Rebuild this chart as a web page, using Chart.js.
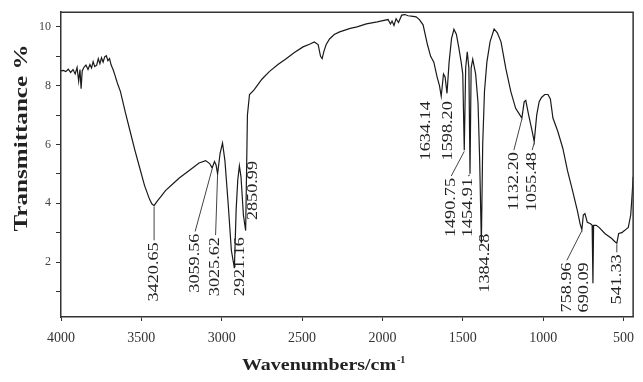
<!DOCTYPE html>
<html>
<head>
<meta charset="utf-8">
<script src="https://cdn.jsdelivr.net/npm/chart.js@4/dist/chart.umd.min.js"></script>
<style>
  html, body { margin: 0; padding: 0; background: #fff; }
  #wrap { width: 643px; height: 382px; }
</style>
</head>
<body>
<div id="wrap"><canvas id="irChart" width="643" height="382"></canvas></div>
<script>
// IR SPECTRUM - TRANSMITTANCE //

var wavenumbers = [
  4000, 3985, 3970, 3955, 3940, 3925, 3912, 3900, 3890, 3882, 3875, 3868, 3858, 3845, 3832, 3820,
  3810, 3800, 3790, 3778, 3768, 3758, 3748, 3738, 3728, 3718, 3708, 3698, 3688, 3676, 3664, 3650,
  3630, 3600, 3570, 3540, 3510, 3480, 3450, 3435, 3420.65, 3400, 3375, 3350, 3300, 3264, 3200, 3141,
  3100, 3075, 3059.56, 3045, 3035, 3025.62, 3010, 2995, 2980, 2960, 2940, 2921.16, 2910, 2900, 2890,
  2880, 2865, 2850.99, 2845, 2840, 2827, 2800, 2784, 2750, 2704, 2650, 2599, 2550, 2494, 2450, 2424,
  2400, 2385, 2375, 2365, 2350, 2329, 2300, 2266, 2200, 2158, 2100, 2032, 1990, 1965, 1950, 1940,
  1928, 1915, 1900, 1880, 1860, 1840, 1810, 1790, 1770, 1747, 1720, 1700, 1680, 1660, 1645, 1634.14,
  1620, 1610, 1598.2, 1585, 1570, 1555, 1540, 1525, 1510, 1500, 1490.75, 1482, 1472, 1462, 1454.91,
  1448, 1438, 1420, 1405, 1395, 1384.28, 1376, 1365, 1350, 1330, 1305, 1285, 1262, 1232, 1201, 1171,
  1150, 1132.2, 1118, 1108, 1090, 1070, 1055.48, 1040, 1025, 1010, 990, 970, 955, 939, 909, 878,
  848, 817, 787, 770, 758.96, 750, 740, 725, 705, 695, 690.09, 686, 670, 652, 616, 573,
  555, 541.33, 530, 510, 494, 470, 455, 445, 440
];
var transmittance = [
  8.50, 8.52, 8.48, 8.56, 8.45, 8.55, 8.40, 8.62, 8.15, 8.55, 7.90, 8.50, 8.62, 8.70, 8.55, 8.72,
  8.60, 8.82, 8.65, 8.70, 8.92, 8.75, 8.95, 8.80, 8.98, 9.02, 8.85, 8.92, 8.70, 8.55, 8.35, 8.10,
  7.80, 7.10, 6.45, 5.80, 5.20, 4.60, 4.15, 3.98, 3.92, 4.08, 4.25, 4.43, 4.68, 4.86, 5.12, 5.37,
  5.45, 5.35, 5.20, 5.42, 5.30, 5.00, 5.70, 6.05, 5.45, 4.00, 2.40, 1.79, 3.80, 4.80, 5.27,
  4.90, 3.60, 3.07, 5.20, 7.00, 7.70, 7.85, 7.97, 8.22, 8.48, 8.72, 8.92, 9.12, 9.32, 9.42, 9.49,
  9.40, 9.00, 8.92, 9.15, 9.40, 9.59, 9.74, 9.83, 9.95, 10.00, 10.10, 10.17, 10.22, 10.25, 10.10, 10.20,
  10.05, 10.28, 10.15, 10.40, 10.42, 10.38, 10.36, 10.34, 10.25, 10.07, 9.40, 9.00, 8.80, 8.30, 8.00, 7.64,
  8.40, 8.30, 7.74, 8.80, 9.60, 9.92, 9.75, 9.30, 8.80, 8.40, 5.80, 8.60, 9.15, 8.60, 5.00,
  8.60, 8.90, 8.40, 7.40, 5.50, 2.64, 6.00, 7.80, 8.80, 9.50, 9.93, 9.80, 9.49, 8.58, 7.80, 7.23,
  7.05, 6.90, 7.45, 7.50, 7.00, 6.50, 6.10, 7.00, 7.45, 7.60, 7.70, 7.70, 7.55, 6.90, 6.45, 5.88,
  5.10, 4.43, 3.75, 3.30, 3.10, 3.60, 3.65, 3.35, 3.30, 3.25, 1.28, 3.25, 3.25, 3.18, 2.97, 2.80,
  2.70, 2.64, 2.97, 3.00, 3.07, 3.18, 3.60, 4.40, 4.90
];

var xTicks = [4000, 3500, 3000, 2500, 2000, 1500, 1000, 500];
var yTicks = [1, 2, 3, 4, 5, 6, 7, 8, 9, 10];

var peakLabels = ['3420.65', '3059.56', '3025.62', '2921.16', '2850.99', '1634.14', '1598.20',
  '1490.75', '1454.91', '1384.28', '1132.20', '1055.48', '758.96', '690.09', '541.33'];
var peakWavenumbers = [3420.65, 3059.56, 3025.62, 2921.16, 2850.99, 1634.14, 1598.2,
  1490.75, 1454.91, 1384.28, 1132.2, 1055.48, 758.96, 690.09, 541.33];
var peakValues = [3.92, 5.20, 5.00, 1.79, 3.07, 7.64, 7.74, 5.80, 5.00, 2.64, 6.90, 6.10, 3.10, 1.28, 2.64];

// where each peak label sits: pixel shift from the peak, top of text in % units
var labelPlacement = [
  { dx: 0, top: 2.67, leader: true },
  { dx: -17, top: 2.97, leader: true },
  { dx: -2, top: 2.85, leader: true },
  { dx: 6, top: 2.85, leader: false },
  { dx: 8, top: 5.44, leader: false },
  { dx: -15, top: 7.47, leader: false },
  { dx: 1, top: 7.47, leader: false },
  { dx: -13, top: 4.86, leader: true },
  { dx: -2, top: 4.86, leader: true },
  { dx: 4, top: 2.97, leader: false },
  { dx: -8, top: 5.74, leader: true },
  { dx: -2, top: 5.74, leader: true },
  { dx: -15, top: 1.99, leader: true },
  { dx: -9, top: 1.99, leader: false },
  { dx: 0, top: 2.26, leader: true }
];

var serif = '"Liberation Serif", "DejaVu Serif", serif';

var annotate = {
  id: 'annotate',
  afterDraw: function (chart) {
    var ctx = chart.ctx, a = chart.chartArea;
    var xs = chart.scales.x, ys = chart.scales.y;
    ctx.save();
    // frame top + right
    ctx.strokeStyle = '#333';
    ctx.lineWidth = 1.5;
    ctx.beginPath();
    ctx.moveTo(a.left, a.top);
    ctx.lineTo(a.right, a.top);
    ctx.lineTo(a.right, a.bottom);
    ctx.stroke();

    // peak labels
    ctx.lineWidth = 1;
    ctx.strokeStyle = '#444';
    ctx.fillStyle = '#222';
    ctx.font = '14px ' + serif;
    ctx.textAlign = 'right';
    ctx.textBaseline = 'middle';
    peakLabels.forEach(function (txt, i) {
      var p = labelPlacement[i];
      var px = xs.getPixelForValue(peakWavenumbers[i]);
      var py = ys.getPixelForValue(peakValues[i]);
      var lx = px + p.dx, ly = ys.getPixelForValue(p.top);
      if (p.leader) {
        ctx.beginPath();
        ctx.moveTo(px, py + 1);
        ctx.lineTo(lx, ly - 2);
        ctx.stroke();
      }
      ctx.save();
      ctx.translate(lx, ly);
      ctx.rotate(-Math.PI / 2);
      ctx.scale(1.3, 1);
      ctx.fillText(txt, 0, 0);
      ctx.restore();
    });

    // y title
    ctx.fillStyle = '#222';
    ctx.font = 'bold 18px ' + serif;
    ctx.textAlign = 'center';
    var yt = 'Transmittance %';
    var sy = 187 / ctx.measureText(yt).width;
    ctx.save();
    ctx.translate(22, 138);
    ctx.rotate(-Math.PI / 2);
    ctx.scale(sy, 1);
    ctx.fillText(yt, 0, 0);
    ctx.restore();

    // x title
    ctx.font = 'bold 16px ' + serif;
    ctx.textAlign = 'left';
    ctx.textBaseline = 'alphabetic';
    var xt = 'Wavenumbers/cm';
    var sx = 154 / ctx.measureText(xt).width;
    ctx.save();
    ctx.translate(242, 370);
    ctx.scale(sx, 1);
    ctx.fillText(xt, 0, 0);
    ctx.restore();
    ctx.font = 'bold 10px ' + serif;
    ctx.fillText('-1', 242 + 154 + 1, 363);
    ctx.restore();
  }
};

var ctx = document.getElementById('irChart').getContext('2d');
var chart = new Chart(ctx, {
  type: 'line',
  data: {
    datasets: [{
      data: wavenumbers.map(function (w, i) { return { x: w, y: transmittance[i] }; }),
      borderColor: '#1a1a1a',
      borderWidth: 1.2,
      pointRadius: 0,
      tension: 0,
      fill: false
    }]
  },
  options: {
    responsive: false,
    animation: false,
    layout: { padding: { top: 10, right: 1, left: 0, bottom: 0 } },
    plugins: { legend: { display: false }, tooltip: { enabled: false } },
    scales: {
      x: {
        type: 'linear',
        reverse: true,
        min: 440,
        max: 4000,
        afterFit: function (s) { s.height = 65; },
        afterBuildTicks: function (s) { s.ticks = xTicks.map(function (v) { return { value: v }; }); },
        grid: { drawOnChartArea: false, drawTicks: true, tickLength: 4, color: '#333' },
        border: { display: true, color: '#333', width: 1.5 },
        ticks: {
          color: '#333',
          font: { family: serif, size: 14 },
          padding: 9,
          maxRotation: 0,
          callback: function (v) { return String(v); }
        }
      },
      y: {
        min: 0.13,
        max: 10.5,
        afterFit: function (s) { s.width = 61; },
        afterBuildTicks: function (s) { s.ticks = yTicks.map(function (v) { return { value: v }; }); },
        grid: { drawOnChartArea: false, drawTicks: true, tickLength: 5, color: '#333' },
        border: { display: true, color: '#333', width: 1.5 },
        ticks: {
          color: '#444',
          font: { family: serif, size: 12 },
          padding: 5,
          callback: function (v) { return v % 2 === 0 ? String(v) : ''; }
        }
      }
    }
  },
  plugins: [annotate]
});
</script>
</body>
</html>
